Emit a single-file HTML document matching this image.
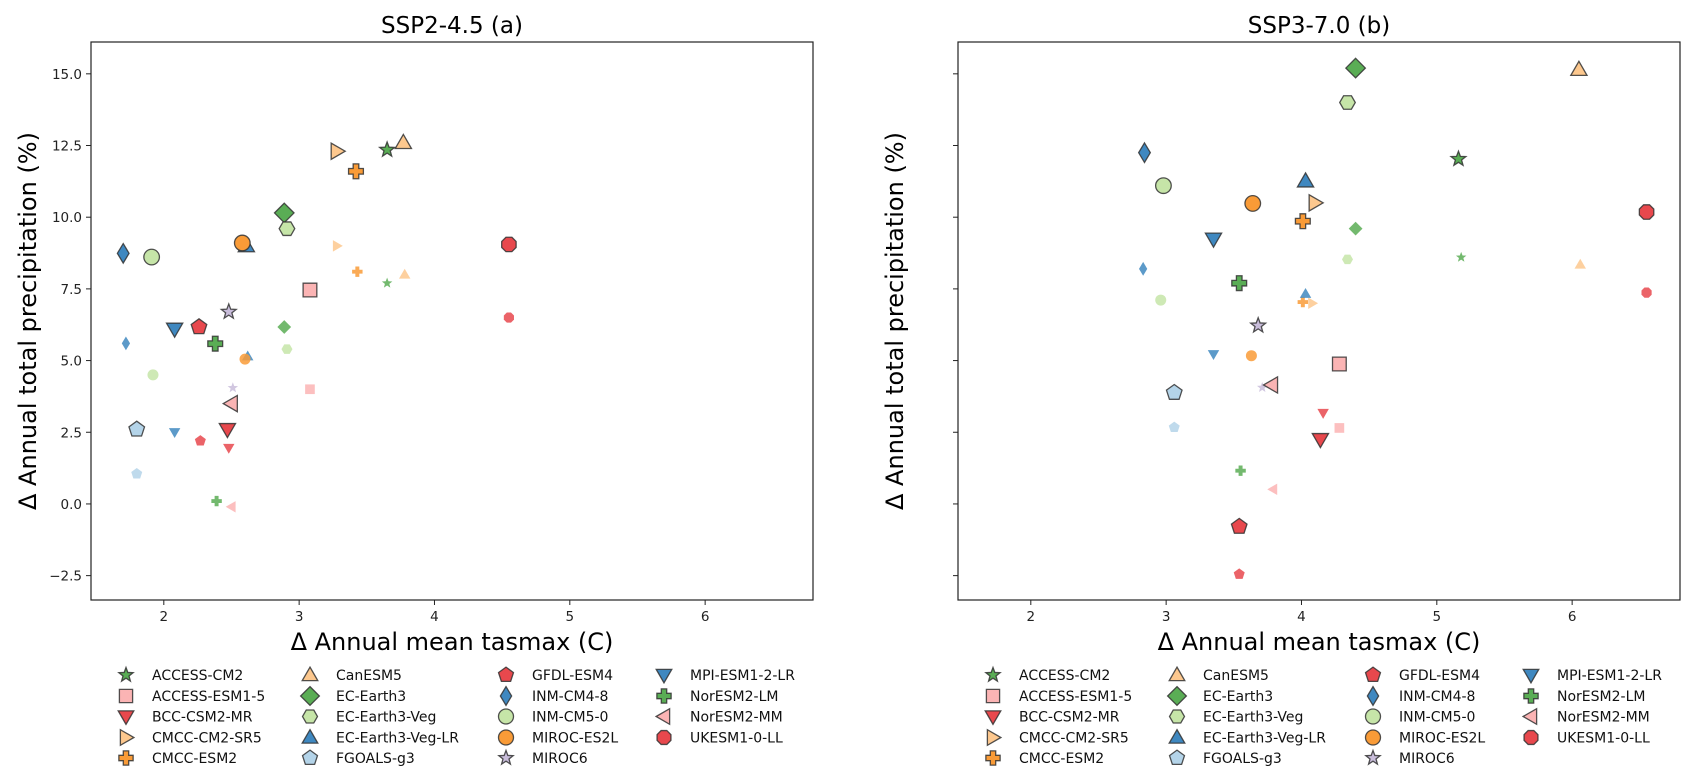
<!DOCTYPE html>
<html><head><meta charset="utf-8">
<style>
html,body{margin:0;padding:0;background:#fff;}
svg{display:block;font-family:"DejaVu Sans","Liberation Sans",sans-serif;}
</style></head>
<body>
<svg id="fig" width="1697" height="782" viewBox="0 0 1697 782" xmlns="http://www.w3.org/2000/svg"></svg>
<script>
// ---- data ----
const models = ["ACCESS-CM2","ACCESS-ESM1-5","BCC-CSM2-MR","CMCC-CM2-SR5","CMCC-ESM2","CanESM5","EC-Earth3","EC-Earth3-Veg","EC-Earth3-Veg-LR","FGOALS-g3","GFDL-ESM4","INM-CM4-8","INM-CM5-0","MIROC-ES2L","MIROC6","MPI-ESM1-2-LR","NorESM2-LM","NorESM2-MM","UKESM1-0-LL"];
const markers = ["star","square","tridown","triright","plus","triup","diamond","hexagon","triup","pentagon","pentagon","thindiamond","circle","circle","star","tridown","plus","trileft","octagon"];
const colors = ["#5aad55","#fbb4b4","#e8484d","#fdc88e","#f99b37","#fdc88e","#5aad55","#c6e5a8","#3f88c0","#b4d4e9","#e8484d","#3f88c0","#c6e5a8","#f99b37","#c9bddb","#3f88c0","#5aad55","#fbb4b4","#e8484d"];
// SSP2-4.5 (a): large markers
const a_bigX = [3.65,3.08,2.47,3.28,3.42,3.77,2.89,2.91,2.61,1.80,2.26,1.70,1.91,2.58,2.48,2.08,2.38,2.50,4.55];
const a_bigY = [12.35,7.46,2.6,12.3,11.6,12.6,10.15,9.6,9.0,2.6,6.17,8.74,8.61,9.1,6.7,6.1,5.59,3.5,9.05];
// SSP2-4.5 (a): small markers
const a_smlX = [3.65,3.08,2.48,3.28,3.43,3.78,2.89,2.91,2.62,1.80,2.27,1.72,1.92,2.60,2.51,2.08,2.39,2.50,4.55];
const a_smlY = [7.7,4.0,1.95,9.0,8.1,8.0,6.17,5.4,5.15,1.05,2.2,5.6,4.5,5.05,4.05,2.5,0.1,-0.1,6.5];
// SSP3-7.0 (b): large markers
const b_bigX = [5.16,4.28,4.14,4.10,4.01,6.05,4.40,4.34,4.03,3.06,3.54,2.84,2.98,3.64,3.68,3.35,3.54,3.78,6.55];
const b_bigY = [12.03,4.88,2.25,10.5,9.86,15.15,15.2,14.0,11.26,3.88,-0.79,12.25,11.1,10.48,6.22,9.24,7.7,4.15,10.18];
// SSP3-7.0 (b): small markers
const b_smlX = [5.18,4.28,4.16,4.08,4.01,6.06,4.40,4.34,4.03,3.06,3.54,2.83,2.96,3.63,3.71,3.35,3.55,3.79,6.55];
const b_smlY = [8.6,2.65,3.17,7.0,7.04,8.35,9.6,8.53,7.33,2.67,-2.45,8.2,7.11,5.17,4.06,5.22,1.16,0.51,7.37];
const xTicks = [2,3,4,5,6];
const yTicks = [-2.5,0.0,2.5,5.0,7.5,10.0,12.5,15.0];
const xLim = [1.462, 6.797];
const yLim = [-3.35, 16.11];

const NS = "http://www.w3.org/2000/svg";
const svg = document.getElementById("fig");
function el(tag, attrs, parent){ const e=document.createElementNS(NS,tag); for(const k in attrs) e.setAttribute(k,attrs[k]); (parent||svg).appendChild(e); return e; }

function shapePath(type, r){
  function poly(n,rot,rad){ const p=[]; for(let i=0;i<n;i++){const a=rot+i*2*Math.PI/n; p.push([rad*Math.sin(a), -rad*Math.cos(a)]);} return p; }
  let P;
  switch(type){
    case "circle": return null;
    case "square": P=[[-r*0.88,-r*0.88],[r*0.88,-r*0.88],[r*0.88,r*0.88],[-r*0.88,r*0.88]]; break;
    case "diamond": P=[[0,-r*1.25],[r*1.25,0],[0,r*1.25],[-r*1.25,0]]; break;
    case "thindiamond": P=[[0,-r*1.25],[r*0.75,0],[0,r*1.25],[-r*0.75,0]]; break;
    case "triup": P=poly(3,0,r*1.2); P=P.map(p=>[p[0],p[1]+r*0.15]); break;
    case "tridown": P=poly(3,Math.PI,r*1.2); P=P.map(p=>[p[0],p[1]-r*0.15]); break;
    case "triright": P=poly(3,Math.PI/2,r*1.2); P=P.map(p=>[p[0]-r*0.15,p[1]]); break;
    case "trileft": P=poly(3,-Math.PI/2,r*1.2); P=P.map(p=>[p[0]+r*0.15,p[1]]); break;
    case "pentagon": P=poly(5,0,r*1.05); break;
    case "hexagon": P=poly(6,Math.PI/6,r*1.0); break;
    case "octagon": P=poly(8,Math.PI/8,r*1.0); break;
    case "star": { P=[]; for(let i=0;i<10;i++){const a=i*Math.PI/5; const rad=(i%2==0)?r*1.0:r*0.42; P.push([rad*Math.sin(a),-rad*Math.cos(a)]);} break; }
    case "plus": { const a=r*0.95,b=r*0.36; P=[[-b,-a],[b,-a],[b,-b],[a,-b],[a,b],[b,b],[b,a],[-b,a],[-b,b],[-a,b],[-a,-b],[-b,-b]]; break; }
  }
  return "M"+P.map(p=>p[0].toFixed(2)+","+p[1].toFixed(2)).join("L")+"Z";
}
function drawMarker(parent,type,cx,cy,r,fill,big){
  const attrs = big ? {fill:fill, stroke:"#333", "stroke-width":1.3, "stroke-opacity":0.85} : {fill:fill, "fill-opacity":0.85};
  let m;
  if(type==="circle"){ m=el("circle",Object.assign({cx:cx,cy:cy,r:r},attrs),parent); }
  else { m=el("path",Object.assign({d:shapePath(type,r),transform:`translate(${cx},${cy})`},attrs),parent); }
  return m;
}

function panel(id, left, title, bigX, bigY, smlX, smlY, showYLabels){
  const top=42, bottom=600, width=722;
  const sx=v=>left+(v-xLim[0])/(xLim[1]-xLim[0])*width;
  const sy=v=>bottom-(v-yLim[0])/(yLim[1]-yLim[0])*(bottom-top);
  const g=el("g",{});
  
  
  const t=el("text",{x:left+width/2,y:33,"text-anchor":"middle","font-size":23,fill:"#000"},g);
  t.textContent=title;
  
  
  const frame=el("rect",{x:left,y:top,width:width,height:bottom-top,fill:"none",stroke:"#222","stroke-width":1.2},g);
  
  
  xTicks.forEach(v=>{
    const x=sx(v);
    el("line",{x1:x,x2:x,y1:bottom,y2:bottom+5,stroke:"#222","stroke-width":1},g);
    const tl=el("text",{x:x,y:bottom+21,"text-anchor":"middle","font-size":13.5,fill:"#222"},g);
    tl.textContent=String(v);
    
    
  });
  yTicks.forEach(v=>{
    const y=sy(v);
    el("line",{x1:left-5,x2:left,y1:y,y2:y,stroke:"#222","stroke-width":1},g);
    if(showYLabels){
      const tl=el("text",{x:left-9,y:y+5,"text-anchor":"end","font-size":13.5,fill:"#222"},g);
      tl.textContent=(v<0?"\u2212":"")+Math.abs(v).toFixed(1);
      
      
    }
  });
  const xl=el("text",{x:left+width/2,y:650,"text-anchor":"middle","font-size":24,fill:"#000"},g);
  xl.textContent="\u0394 Annual mean tasmax (C)";
  
  
  const ylx = left-55;
  const yl=el("text",{x:ylx,y:(top+bottom)/2,"text-anchor":"middle","font-size":24,fill:"#000",transform:`rotate(-90 ${ylx} ${(top+bottom)/2})`},g);
  yl.textContent="\u0394 Annual total precipitation (%)";
  
  
  for(let i=0;i<models.length;i++){
    const m=drawMarker(g,markers[i],sx(smlX[i]),sy(smlY[i]),5.5,colors[i],false);
    
    
  }
  for(let i=0;i<models.length;i++){
    const m=drawMarker(g,markers[i],sx(bigX[i]),sy(bigY[i]),7.8,colors[i],true);
    
    
  }
  const colX=[126,310,506,664].map(v=>v-91+left);
  const rowY=[675,696,716.5,737.5,758];
  const colRows=[5,5,5,4];
  let k=0;
  const lg=el("g",{},g);
  
  
  for(let c=0;c<4;c++){
    for(let r=0;r<colRows[c];r++){
      const e=el("g",{},lg);
      
      
      drawMarker(e,markers[k],colX[c],rowY[r],7.5,colors[k],true);
      const tx=el("text",{x:colX[c]+26,y:rowY[r]+5,"font-size":14,fill:"#111"},e);
      tx.textContent=models[k];
      k++;
    }
  }
}
panel("ssp245",91,"SSP2-4.5 (a)",a_bigX,a_bigY,a_smlX,a_smlY,true);
panel("ssp370",958,"SSP3-7.0 (b)",b_bigX,b_bigY,b_smlX,b_smlY,false);
</script>
</body></html>
